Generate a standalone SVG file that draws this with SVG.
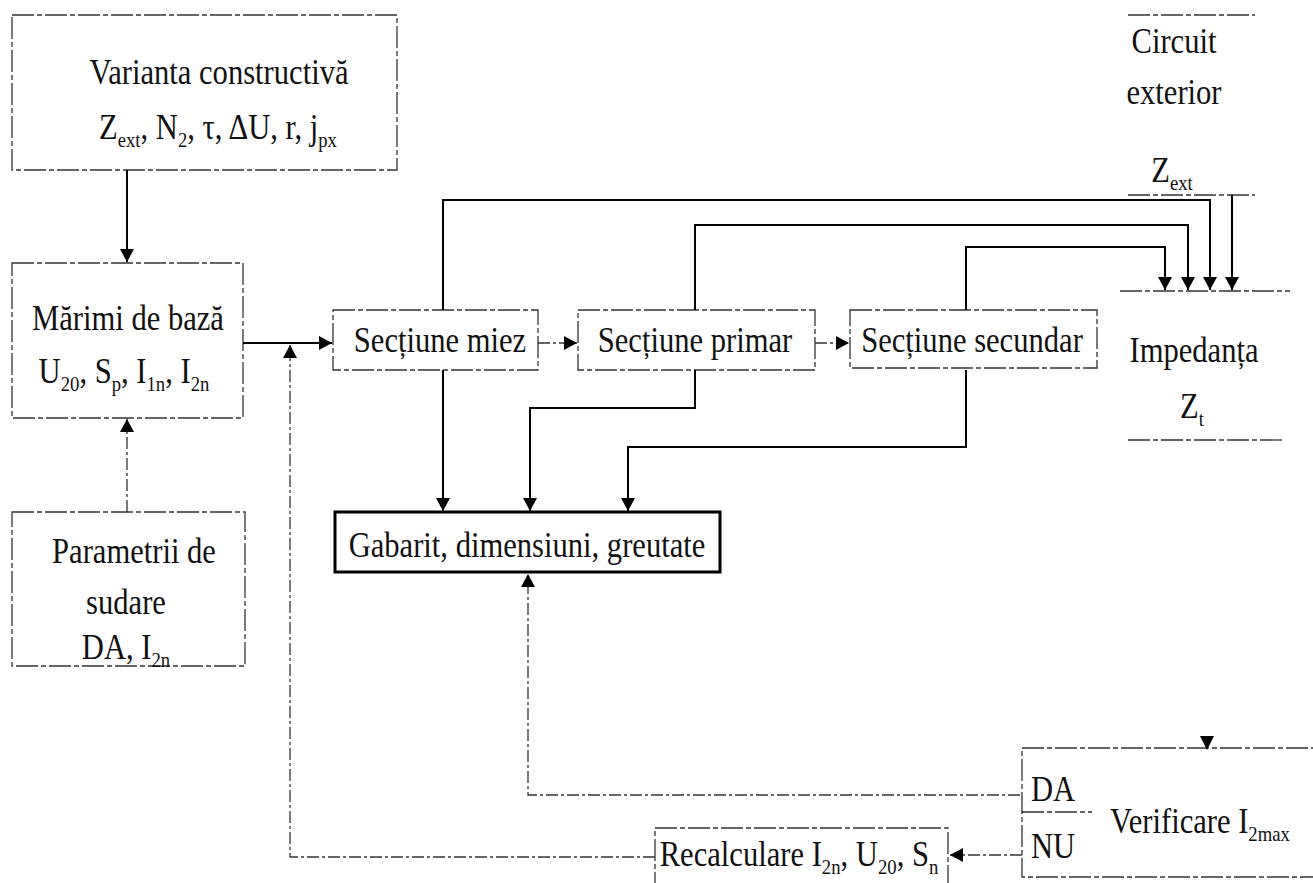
<svg xmlns="http://www.w3.org/2000/svg" width="1313" height="883" viewBox="0 0 1313 883">
<style>
  text { font-family: "Liberation Serif", "Times New Roman", serif; font-size: 36px; fill: #111; text-anchor: middle; }
  .sub { font-size: 22px; }
  .box { fill: none; stroke: #333; stroke-width: 1.3; stroke-dasharray: 22 3 5 3; }
  .edge { fill: none; stroke: #333; stroke-width: 1.3; stroke-dasharray: 22 3 5 3; }
  .thick { fill: none; stroke: #000; stroke-width: 3; }
  .solid { fill: none; stroke: #000; stroke-width: 2; }
  .dash { fill: none; stroke: #333; stroke-width: 1.3; stroke-dasharray: 12 3 3 3; }
</style>
<defs>
  <marker id="ah" markerUnits="userSpaceOnUse" markerWidth="15" markerHeight="15" refX="13" refY="7" orient="auto">
    <path d="M0,0 L13,7 L0,14 Z" fill="#000"/>
  </marker>
</defs>
<rect width="1313" height="883" fill="#fff"/>

<g id="varianta">
  <rect class="box" x="12" y="15" width="385" height="155"/>
  <text transform="translate(219,84) scale(0.85,1)">Varianta constructivă</text>
  <text transform="translate(218,139) scale(0.85,1)">Z<tspan class="sub" dy="8">ext</tspan><tspan dy="-8">, N</tspan><tspan class="sub" dy="8">2</tspan><tspan dy="-8">,  τ, ΔU, r, j</tspan><tspan class="sub" dy="8">px</tspan></text>
</g>

<g id="marimi">
  <rect class="box" x="12" y="263" width="231" height="155"/>
  <text transform="translate(128,330) scale(0.85,1)">Mărimi de bază</text>
  <text transform="translate(124,383) scale(0.85,1)">U<tspan class="sub" dy="8">20</tspan><tspan dy="-8">, S</tspan><tspan class="sub" dy="8">p</tspan><tspan dy="-8">, I</tspan><tspan class="sub" dy="8">1n</tspan><tspan dy="-8">, I</tspan><tspan class="sub" dy="8">2n</tspan></text>
</g>

<g id="parametrii">
  <rect class="box" x="12" y="512" width="233" height="154"/>
  <text transform="translate(134,563) scale(0.85,1)">Parametrii de</text>
  <text transform="translate(126,614) scale(0.85,1)">sudare</text>
  <text transform="translate(126,659) scale(0.85,1)">DA, I<tspan class="sub" dy="8">2n</tspan></text>
</g>

<g id="miez">
  <rect class="box" x="333" y="310" width="205" height="60"/>
  <text transform="translate(440,352) scale(0.85,1)">Secțiune miez</text>
</g>

<g id="primar">
  <rect class="box" x="578" y="310" width="237" height="60"/>
  <text transform="translate(695,352) scale(0.85,1)">Secțiune primar</text>
</g>

<g id="secundar">
  <rect class="box" x="850" y="310" width="247" height="58"/>
  <text transform="translate(972,352) scale(0.85,1)">Secțiune secundar</text>
</g>

<g id="gabarit">
  <rect class="thick" x="335" y="512" width="385" height="60"/>
  <text transform="translate(527,557) scale(0.85,1)">Gabarit, dimensiuni, greutate</text>
</g>

<g id="circuit">
  <line class="edge" x1="1128" y1="15" x2="1255" y2="15"/>
  <line class="edge" x1="1128" y1="195" x2="1255" y2="195"/>
  <text transform="translate(1174,53) scale(0.85,1)">Circuit</text>
  <text transform="translate(1174,104) scale(0.85,1)">exterior</text>
  <text transform="translate(1172,182) scale(0.85,1)">Z<tspan class="sub" dy="8">ext</tspan></text>
</g>

<g id="impedanta">
  <line class="edge" x1="1120" y1="291" x2="1290" y2="291"/>
  <line class="edge" x1="1128" y1="440" x2="1285" y2="440"/>
  <text transform="translate(1194,362) scale(0.85,1)">Impedanța</text>
  <text transform="translate(1192,418) scale(0.85,1)">Z<tspan class="sub" dy="8">t</tspan></text>
</g>

<g id="verificare">
  <rect class="box" x="1022" y="748" width="300" height="129"/>
  <line class="edge" x1="1022" y1="812" x2="1092" y2="812"/>
  <text transform="translate(1053,801) scale(0.85,1)">DA</text>
  <text transform="translate(1053,858) scale(0.85,1)">NU</text>
  <text transform="translate(1110,833) scale(0.85,1)" style="text-anchor:start">Verificare I<tspan class="sub" dy="8">2max</tspan></text>
</g>

<g id="recalculare">
  <rect class="box" x="655" y="828" width="293" height="70"/>
  <text transform="translate(799,866) scale(0.85,1)">Recalculare I<tspan class="sub" dy="8">2n</tspan><tspan dy="-8">, U</tspan><tspan class="sub" dy="8">20</tspan><tspan dy="-8">, S</tspan><tspan class="sub" dy="8">n</tspan></text>
</g>

<g id="connectors">
  <path class="solid" d="M127,170 V262" marker-end="url(#ah)"/>
  <path class="dash" d="M127,512 V419" marker-end="url(#ah)"/>
  <path class="solid" d="M243,343 H332" marker-end="url(#ah)"/>
  <path class="dash" d="M538,343 H577" marker-end="url(#ah)"/>
  <path class="dash" d="M815,343 H849" marker-end="url(#ah)"/>
  <path class="solid" d="M443,310 V200 H1210 V290" marker-end="url(#ah)"/>
  <path class="solid" d="M695,310 V225 H1188 V290" marker-end="url(#ah)"/>
  <path class="solid" d="M966,310 V247 H1165 V290" marker-end="url(#ah)"/>
  <path class="solid" d="M1232,195 V290" marker-end="url(#ah)"/>
  <path class="solid" d="M443,370 V511" marker-end="url(#ah)"/>
  <path class="solid" d="M695,370 V408 H530 V511" marker-end="url(#ah)"/>
  <path class="solid" d="M966,370 V447 H628 V511" marker-end="url(#ah)"/>
  <path class="dash" d="M1020,795 H528 V574" marker-end="url(#ah)"/>
  <path class="dash" d="M1022,855 H950" marker-end="url(#ah)"/>
  <path class="dash" d="M655,857 H290 V345" marker-end="url(#ah)"/>
  <path d="M1200,736 L1214,736 L1207,750 Z" fill="#000"/>
</g>
</svg>
